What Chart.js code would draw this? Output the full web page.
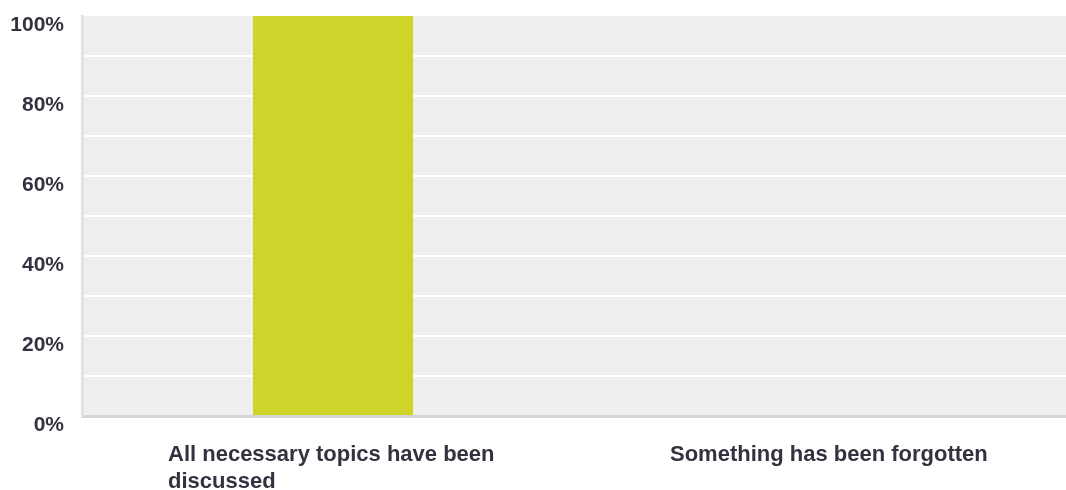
<!DOCTYPE html>
<html>
<head>
<meta charset="utf-8">
<script src="https://cdn.jsdelivr.net/npm/chart.js@4/dist/chart.umd.min.js"></script>
<style>
  html, body { margin: 0; padding: 0; background: #ffffff; overflow: hidden; width: 1066px; height: 490px; }
  #wrap { width: 1086px; height: 490px; }
</style>
</head>
<body>
<div id="wrap"><canvas id="c" width="1086" height="490"></canvas></div>
<script>
const categories = [["All necessary topics have been", "discussed"], "Something has been forgotten"];
const percentValues = [100, 0];
const yTickValues = [0, 20, 40, 60, 80, 100];

const plotBg = {
  id: 'plotBg',
  beforeDraw(chart) {
    const a = chart.chartArea, ctx = chart.ctx;
    ctx.save();
    ctx.fillStyle = '#efefef';
    ctx.fillRect(a.left, a.top, a.right - a.left, a.bottom - a.top);
    ctx.restore();
  }
};

new Chart(document.getElementById('c'), {
  type: 'bar',
  data: {
    labels: categories,
    datasets: [{
      data: percentValues,
      backgroundColor: '#cfd42a',
      borderWidth: 0,
      barPercentage: 0.319,
      categoryPercentage: 1
    }]
  },
  options: {
    responsive: false,
    devicePixelRatio: 1,
    animation: false,
    layout: { padding: { top: 16, left: 0, right: 0, bottom: 0 } },
    plugins: { legend: { display: false }, tooltip: { enabled: false } },
    scales: {
      x: {
        offset: true,
        grid: { display: false, drawTicks: false },
        border: { display: true, color: '#d4d4d4', width: 3 },
        afterFit(scale) { scale.height = 74; scale.paddingLeft = 0; scale.paddingRight = 0; },
        ticks: {
          align: 'start',
          labelOffset: -165,
          padding: 26,
          maxRotation: 0,
          autoSkip: false,
          color: '#333340',
          font: { family: '"Liberation Sans", Arial, sans-serif', size: 22, weight: 'bold', lineHeight: 1.2 }
        }
      },
      y: {
        min: 0,
        max: 100,
        afterFit(scale) { scale.width = 82; scale.paddingTop = 0; scale.paddingBottom = 0; },
        grid: {
          drawTicks: false,
          lineWidth: 2,
          color: (ctx) => (ctx.tick && ctx.tick.value === 100) ? 'rgba(0,0,0,0)' : '#ffffff'
        },
        border: { display: true, color: '#e2e2e2', width: 3 },
        ticks: {
          stepSize: 10,
          padding: 18,
          labelOffset: 9,
          color: '#333340',
          font: { family: '"Liberation Sans", Arial, sans-serif', size: 21, weight: 'bold' },
          callback: (v) => yTickValues.includes(v) ? v + '%' : ''
        }
      }
    }
  },
  plugins: [plotBg]
});
</script>
</body>
</html>
